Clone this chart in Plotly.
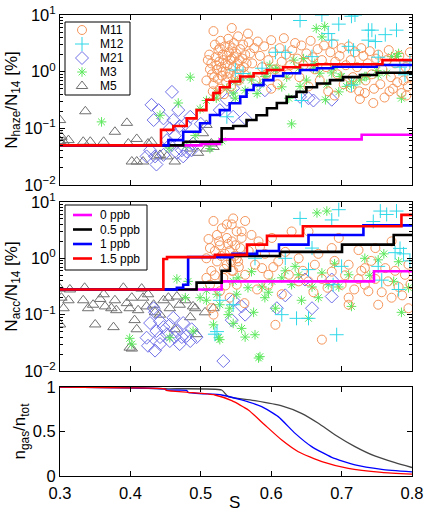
import plotly.graph_objects as go

# ---------------- data ----------------
x_ticks = [0.3, 0.4, 0.5, 0.6, 0.7, 0.8]
log_ticks = [0.01, 0.1, 1, 10]
log_tick_text = ["10<sup>\u22122</sup>", "10<sup>\u22121</sup>", "10<sup>0</sup>", "10<sup>1</sup>"]
lin_ticks = [0, 0.5, 1]
lin_tick_text = ["0", "0.5", "1"]
series_names = ["M11", "M12", "M21", "M3", "M5"]
line_names = ["0 ppb", "0.5 ppb", "1 ppb", "1.5 ppb"]

# panel 1 : N_haze / N_14 [%]  (S, value)
m11_haze = [(0.518,5.2),(0.544,5.9),(0.567,4.7),(0.512,2.0),(0.515,1.4),(0.516,0.9),(0.518,0.6),(0.520,3.0),
            (0.521,1.8),(0.523,1.1),(0.524,0.75),(0.525,2.4),(0.526,1.5),(0.527,0.5),(0.528,3.5),(0.529,1.2),
            (0.530,0.85),(0.531,2.0),(0.532,1.6),(0.533,0.4),(0.534,2.8),(0.535,1.0),(0.536,0.65),(0.537,1.9),
            (0.538,1.3),(0.539,3.8),(0.540,2.2),(0.541,0.95),(0.542,1.6),(0.543,0.55),(0.545,2.6),(0.546,1.2),
            (0.547,3.2),(0.548,1.8),(0.549,0.8),(0.550,2.1),(0.552,1.4),(0.553,4.2),(0.554,0.7),(0.556,2.5),
            (0.557,1.1),(0.559,1.7),(0.560,3.0),(0.562,0.9),(0.563,2.0),(0.565,1.4),(0.568,3.3),(0.570,2.1),
            (0.513,1.1),(0.519,0.8),(0.522,1.3),(0.527,2.6),(0.531,1.0),(0.535,1.4),(0.538,0.8),(0.541,2.9),
            (0.544,1.7),(0.551,0.9),(0.555,1.6),(0.561,1.2),(0.517,0.45),(0.522,0.38),(0.508,0.7),(0.510,1.6),
            (0.573,1.4),(0.576,2.6),(0.578,0.7),(0.581,3.4),(0.584,1.9),(0.587,1.2),(0.590,2.8),(0.593,0.9),
            (0.596,1.6),(0.600,3.6),(0.603,2.2),(0.606,1.1),(0.609,0.6),(0.612,2.6),(0.615,1.5),(0.618,3.9),
            (0.621,2.0),(0.624,0.9),(0.627,1.3),(0.630,2.4),(0.634,3.2),(0.637,1.7),(0.640,0.8),(0.643,2.9),
            (0.646,1.3),(0.650,2.1),(0.653,0.55),(0.656,3.5),(0.659,1.8),(0.662,1.1),(0.666,2.5),(0.669,0.7),
            (0.672,1.6),(0.675,2.9),(0.678,1.2),(0.681,0.45),(0.684,2.2),(0.688,3.1),(0.691,1.5),(0.694,0.9),
            (0.697,1.9),(0.700,2.6),(0.703,0.6),(0.706,1.3),(0.710,2.8),(0.713,1.6),(0.716,0.8),(0.719,2.2),
            (0.722,1.2),(0.725,0.45),(0.728,2.6),(0.731,1.9),(0.734,0.7),(0.737,1.4),(0.740,2.3),(0.743,0.9),
            (0.746,0.5),(0.749,1.7),(0.752,2.0),(0.755,0.6),(0.758,1.1),(0.761,0.35),(0.764,1.6),(0.767,2.4),
            (0.770,0.8),(0.773,0.5),(0.776,1.4),(0.779,0.65),(0.782,1.9),(0.785,0.42),(0.788,0.7),(0.791,1.2),
            (0.794,0.55),(0.797,2.2),(0.799,0.8),(0.726,0.33),(0.745,0.28),(0.690,0.38),(0.768,0.45),
            (0.792,0.38),(0.733,0.42),(0.713,0.52),(0.600,0.5)]
m12_haze = [(0.641,8.0),(0.672,10),(0.696,6.9),(0.714,9.5),(0.719,10),(0.738,5.4),(0.743,5.4),(0.762,4.5),
            (0.778,5.4),(0.748,3.4),(0.681,4.7),(0.686,3.6),(0.606,2.2),(0.620,2.2),(0.658,1.84),(0.643,0.31),
            (0.710,2.8),(0.714,0.58),(0.738,3.6),(0.783,1.2),(0.790,0.88),(0.752,1.8),(0.549,1.07),(0.560,0.93),
            (0.587,1.15),(0.717,2.4),(0.537,0.16),(0.797,1.5)]
m21_haze = [(0.459,0.44),(0.430,0.26),(0.440,0.21),(0.433,0.14),(0.447,0.15),(0.461,0.14),(0.456,0.10),
            (0.470,0.11),(0.478,0.12),(0.468,0.21),(0.485,0.16),(0.463,0.074),(0.428,0.041),(0.435,0.032),
            (0.437,0.023),(0.447,0.034),(0.456,0.051),(0.466,0.037),(0.473,0.041),(0.480,0.039),(0.487,0.041),
            (0.489,0.054),(0.475,0.032),(0.452,0.062),(0.423,0.032),(0.537,0.32),(0.546,0.51),(0.527,0.21),
            (0.546,0.16),(0.563,0.15),(0.591,0.47),(0.641,0.36),(0.653,0.34),(0.660,0.31),(0.686,0.32),(0.500,0.12)]
m3_haze = [(0.359,0.13),(0.442,0.17),(0.468,0.28),(0.485,0.80),(0.492,0.075),(0.499,0.22),(0.508,0.31),
           (0.513,0.044),(0.523,0.42),(0.522,0.34),(0.537,0.51),(0.546,0.42),(0.549,0.66),(0.549,0.34),
           (0.556,0.71),(0.563,0.47),(0.570,0.82),(0.572,0.71),(0.580,0.41),(0.584,0.60),(0.591,0.82),
           (0.594,0.94),(0.598,1.3),(0.606,1.07),(0.608,1.15),(0.615,0.54),(0.622,0.80),(0.625,0.34),
           (0.629,0.12),(0.632,1.6),(0.639,1.15),(0.641,0.55),(0.646,1.7),(0.650,0.71),(0.660,1.15),(0.662,1.4),
           (0.664,5.8),(0.669,0.94),(0.672,4.1),(0.676,6.3),(0.677,0.32),(0.679,0.60),(0.686,0.95),(0.688,1.15),
           (0.696,0.44),(0.698,0.82),(0.700,0.82),(0.707,0.55),(0.714,0.66),(0.717,0.60),(0.726,0.71),
           (0.733,0.82),(0.735,0.82),(0.750,1.05),(0.752,0.87),(0.764,0.94),(0.771,1.84),(0.778,1.85),
           (0.781,2.1),(0.785,0.34),(0.479,0.05),(0.530,0.06),(0.455,0.045)]
m5_haze = [(0.300,0.14),(0.302,0.071),(0.305,0.058),(0.312,0.062),(0.333,0.058),(0.336,0.20),(0.343,0.058),
           (0.362,0.058),(0.378,0.087),(0.395,0.125),(0.397,0.054),(0.402,0.026),(0.409,0.065),(0.409,0.026),
           (0.418,0.026),(0.425,0.054),(0.430,0.058),(0.437,0.032),(0.442,0.034),(0.452,0.032),(0.463,0.026),
           (0.485,0.044),(0.496,0.037),(0.503,0.082),(0.508,0.044),(0.508,0.115),(0.515,0.054),(0.518,0.047),
           (0.300,0.060)]

# panel 2 : N_acc / N_14 [%]  (S, value)
m11_acc = [(0.518,4.6),(0.537,4.0),(0.546,5.1),(0.523,2.6),(0.537,2.3),(0.551,3.0),(0.513,1.52),(0.527,1.7),
           (0.541,1.35),(0.508,1.0),(0.523,0.88),(0.537,0.77),(0.551,1.0),(0.515,0.6),(0.532,0.45),(0.546,0.6),
           (0.513,0.34),(0.527,0.26),(0.541,0.2),(0.551,0.34),(0.508,0.45),(0.520,1.35),(0.534,1.2),(0.544,2.0),
           (0.556,1.52),(0.518,0.10),(0.515,0.13),(0.530,3.4),(0.526,2.0),(0.529,1.1),(0.533,0.65),(0.539,1.8),
           (0.548,1.1),(0.554,0.7),(0.511,2.2),(0.520,0.5),(0.543,0.9),(0.535,0.33),(0.558,2.3),
           (0.563,4.6),(0.544,4.0),(0.558,3.0),(0.572,2.6),(0.582,2.0),(0.549,1.7),(0.568,1.35),(0.591,1.2),
           (0.553,0.88),(0.577,0.77),(0.544,0.6),(0.563,0.51),(0.587,0.67),(0.596,0.34),(0.610,0.88),(0.625,0.51),
           (0.639,1.0),(0.653,0.39),(0.662,0.77),(0.672,0.43),(0.686,0.58),(0.700,0.34),(0.710,0.77),(0.710,0.2),
           (0.724,0.43),(0.733,0.67),(0.738,0.26),(0.748,0.43),(0.752,0.15),(0.766,0.39),(0.771,0.2),(0.781,0.31),
           (0.790,0.51),(0.795,0.13),(0.672,0.036),(0.606,0.066),(0.710,0.15),(0.629,3.0),(0.601,2.3),(0.686,1.52),
           (0.724,1.4),(0.748,1.52),(0.771,2.0),(0.795,0.77),(0.653,3.0),(0.696,2.3),(0.639,0.39),(0.615,0.23),
           (0.596,0.51),(0.733,0.34),(0.762,0.67),(0.620,1.3),(0.645,0.6),(0.667,1.2),(0.690,0.9),(0.705,0.5),
           (0.718,0.28),(0.742,0.9),(0.757,0.25),(0.776,0.6),(0.786,0.22),(0.798,0.35),(0.580,0.28),(0.603,0.7),
           (0.660,0.25),(0.728,0.6),(0.680,0.3),(0.562,0.16),(0.584,1.6)]
m12_acc = [(0.641,5.1),(0.696,7.3),(0.755,6.9),(0.778,6.9),(0.764,6.0),(0.686,4.8),(0.745,4.5),(0.620,1.0),
           (0.615,0.10),(0.636,0.086),(0.653,0.086),(0.693,0.044),(0.688,0.34),(0.783,1.5),(0.788,1.2),
           (0.776,1.26),(0.757,0.41),(0.752,0.72),(0.781,0.28),(0.577,1.0),(0.653,0.63),(0.658,1.52),(0.700,0.72),
           (0.527,0.18),(0.520,0.045),(0.546,0.15),(0.523,0.05),(0.797,0.9)]
m21_acc = [(0.433,0.13),(0.435,0.11),(0.428,0.071),(0.437,0.051),(0.442,0.04),(0.435,0.023),(0.442,0.03),
           (0.447,0.06),(0.452,0.045),(0.456,0.066),(0.456,0.034),(0.463,0.04),(0.466,0.051),(0.470,0.03),
           (0.473,0.04),(0.475,0.071),(0.480,0.042),(0.485,0.034),(0.487,0.055),(0.494,0.04),(0.461,0.088),
           (0.532,0.015),(0.423,0.039),(0.425,0.028),(0.442,0.076),(0.558,0.14),(0.563,0.10),(0.608,0.13),
           (0.620,0.22),(0.648,0.42),(0.658,0.13),(0.686,0.21),(0.686,0.42),(0.544,0.08),(0.546,0.18)]
m3_acc = [(0.466,0.43),(0.482,0.39),(0.478,0.2),(0.499,0.2),(0.508,0.27),(0.523,0.23),(0.527,0.15),(0.541,0.13),
          (0.546,0.07),(0.399,0.038),(0.456,0.039),(0.489,0.051),(0.518,0.066),(0.525,0.039),(0.527,0.036),
          (0.508,0.18),(0.539,0.10),(0.546,0.39),(0.551,0.23),(0.584,0.018),(0.665,6.4),(0.679,6.9),(0.553,0.45),
          (0.572,0.58),(0.587,0.31),(0.601,0.39),(0.615,0.45),(0.629,0.34),(0.639,0.51),(0.643,0.18),(0.658,0.31),
          (0.667,0.2),(0.672,0.55),(0.681,0.34),(0.696,0.31),(0.710,0.51),(0.714,0.14),(0.653,0.086),(0.558,0.057),
          (0.577,0.044),(0.582,0.017),(0.563,0.04),(0.591,0.2),(0.606,0.13),(0.781,0.87),(0.785,0.11),(0.774,0.39),
          (0.752,0.94),(0.733,1.0),(0.575,0.11),(0.634,0.72),(0.402,0.03),(0.567,0.3),(0.596,0.25),(0.620,0.6),
          (0.690,0.8),(0.740,0.5),(0.760,1.2),(0.795,0.3)]
m5_acc = [(0.300,0.29),(0.302,0.2),(0.305,0.13),(0.300,0.067),(0.314,0.28),(0.312,0.18),(0.335,0.3),(0.333,0.18),
          (0.340,0.13),(0.347,0.15),(0.350,0.067),(0.362,0.23),(0.364,0.14),(0.373,0.13),(0.376,0.06),(0.390,0.3),
          (0.395,0.16),(0.399,0.13),(0.402,0.2),(0.406,0.08),(0.409,0.055),(0.399,0.026),(0.418,0.2),(0.423,0.14),
          (0.425,0.23),(0.433,0.15),(0.442,0.10),(0.447,0.18),(0.454,0.2),(0.456,0.13),(0.466,0.21),(0.470,0.15),
          (0.478,0.18),(0.485,0.09),(0.489,0.14),(0.492,0.13),(0.506,0.11),(0.518,0.13),(0.463,0.055),
          (0.494,0.045),(0.416,0.29),(0.411,0.12),(0.357,0.19),(0.435,0.11),(0.380,0.12),(0.378,0.18),
          (0.402,0.025)]

# model curves, panel 1 (step lines)
haze_0_s = [0.30, 0.501, 0.527, 0.7285, 0.80]
haze_0_v = [0.05, 0.053, 0.064, 0.077, 0.077]
haze_05_s = [0.30, 0.475, 0.5296, 0.546, 0.565, 0.579, 0.594, 0.608, 0.622, 0.636, 0.650, 0.665, 0.6835, 0.702, 0.726, 0.750, 0.80]
haze_05_v = [0.05, 0.058, 0.10, 0.11, 0.14, 0.17, 0.226, 0.28, 0.36, 0.44, 0.53, 0.62, 0.71, 0.80, 0.875, 0.96, 1.0]
haze_1_s = [0.30, 0.454, 0.475, 0.499, 0.513, 0.527, 0.541, 0.556, 0.565, 0.575, 0.589, 0.603, 0.617, 0.641, 0.665, 0.688, 0.750, 0.80]
haze_1_v = [0.05, 0.062, 0.087, 0.123, 0.172, 0.21, 0.277, 0.363, 0.475, 0.58, 0.71, 0.84, 0.94, 1.07, 1.15, 1.22, 1.31, 1.37]
haze_15_s = [0.30, 0.4435, 0.461, 0.480, 0.494, 0.508, 0.518, 0.527, 0.541, 0.556, 0.575, 0.594, 0.617, 0.641, 0.665, 0.758, 0.80]
haze_15_v = [0.05, 0.094, 0.11, 0.15, 0.21, 0.32, 0.42, 0.53, 0.67, 0.82, 0.94, 1.07, 1.2, 1.31, 1.35, 1.6, 1.6]

# model curves, panel 2 (step lines)
acc_0_s = [0.30, 0.5296, 0.746, 0.80]
acc_0_v = [0.28, 0.39, 0.59, 0.59]
acc_05_s = [0.30, 0.494, 0.5296, 0.5415, 0.6125, 0.7006, 0.774, 0.80]
acc_05_v = [0.28, 0.37, 0.6, 1.1, 1.3, 1.75, 2.6, 2.6]
acc_1_s = [0.30, 0.466, 0.475, 0.482, 0.545, 0.580, 0.611, 0.653, 0.731, 0.80]
acc_1_v = [0.28, 0.30, 0.34, 1.05, 1.2, 1.35, 1.75, 2.6, 3.85, 3.85]
acc_15_s = [0.30, 0.4468, 0.452, 0.520, 0.5656, 0.594, 0.645, 0.785, 0.80]
acc_15_v = [0.28, 0.97, 1.05, 1.15, 1.75, 2.5, 3.7, 5.9, 5.9]

# panel 3 : n_gas / n_tot
gas_05_s = [0.30, 0.40, 0.449, 0.5296, 0.539, 0.577, 0.615, 0.643, 0.667, 0.691, 0.719, 0.747, 0.776, 0.80]
gas_05_v = [1.0, 0.99, 0.98, 0.966, 0.891, 0.846, 0.787, 0.704, 0.592, 0.461, 0.33, 0.225, 0.15, 0.095]
gas_1_s = [0.30, 0.40, 0.449, 0.451, 0.48, 0.482, 0.5296, 0.558, 0.5865, 0.610, 0.634, 0.6575, 0.686, 0.719, 0.757, 0.80]
gas_1_v = [1.0, 0.99, 0.978, 0.966, 0.962, 0.94, 0.91, 0.854, 0.779, 0.667, 0.479, 0.33, 0.21, 0.124, 0.075, 0.046]
gas_15_s = [0.30, 0.40, 0.449, 0.451, 0.482, 0.52, 0.544, 0.5675, 0.591, 0.615, 0.6385, 0.672, 0.7095, 0.757, 0.80]
gas_15_v = [1.0, 0.99, 0.978, 0.962, 0.94, 0.91, 0.846, 0.742, 0.573, 0.404, 0.273, 0.161, 0.086, 0.041, 0.021]

# ---------------- styles ----------------
FONT = "Liberation Sans, Arial, sans-serif"
scatter_styles = {
    "M11": dict(symbol="circle-open", color="#F5955A", size=9),
    "M12": dict(symbol="cross-thin-open", color="#2FD8E8", size=10),
    "M21": dict(symbol="diamond-open", color="#7070E8", size=10),
    "M3": dict(symbol="asterisk-open", color="#5EE85E", size=8),
    "M5": dict(symbol="triangle-up-open", color="#707070", size=10),
}
line_colors = ["#FF00FF", "#000000", "#0000FF", "#FF0000"]

fig = go.Figure()

haze_sets = [m11_haze, m12_haze, m21_haze, m3_haze, m5_haze]
acc_sets = [m11_acc, m12_acc, m21_acc, m3_acc, m5_acc]

order = ["M5", "M21", "M3", "M11", "M12"]
for name in order:
    i = series_names.index(name)
    st = scatter_styles[name]
    for panel, data in ((1, haze_sets[i]), (2, acc_sets[i])):
        fig.add_trace(go.Scatter(
            x=[p[0] for p in data], y=[p[1] for p in data], mode="markers", name=name,
            xaxis="x" if panel == 1 else "x2", yaxis="y" if panel == 1 else "y2",
            marker=dict(symbol=st["symbol"], size=st["size"], color=st["color"],
                        line=dict(color=st["color"], width=1)),
            showlegend=False,
        ))

haze_lines = [(haze_0_s, haze_0_v), (haze_05_s, haze_05_v), (haze_1_s, haze_1_v), (haze_15_s, haze_15_v)]
acc_lines = [(acc_0_s, acc_0_v), (acc_05_s, acc_05_v), (acc_1_s, acc_1_v), (acc_15_s, acc_15_v)]
for k in range(4):
    fig.add_trace(go.Scatter(x=haze_lines[k][0], y=haze_lines[k][1], mode="lines", line_shape="hv",
                             line=dict(color=line_colors[k], width=2.6), xaxis="x", yaxis="y", showlegend=False))
for k in range(4):
    fig.add_trace(go.Scatter(x=acc_lines[k][0], y=acc_lines[k][1], mode="lines", line_shape="hv",
                             name=line_names[k], line=dict(color=line_colors[k], width=2.6),
                             xaxis="x2", yaxis="y2", showlegend=False))

gas_lines = [(gas_05_s, gas_05_v, "#444444"), (gas_1_s, gas_1_v, "#0000FF"), (gas_15_s, gas_15_v, "#FF0000")]
for s, v, c in gas_lines:
    fig.add_trace(go.Scatter(x=s, y=v, mode="lines", line=dict(color=c, width=1.3, shape="spline", smoothing=0.5),
                             xaxis="x3", yaxis="y3", showlegend=False))

# ---------------- hand-made compact legends (overlay subplot in pixel units) ----------------
LEG = dict(xaxis="x4", yaxis="y4", showlegend=False, hoverinfo="skip")
LEG_FONT = dict(size=12, family=FONT)
fig.add_trace(go.Scatter(x=[65, 130, 130, 65, 65], y=[22, 22, 95, 95, 22], mode="lines", fill="toself",
                         fillcolor="white", line=dict(color="black", width=1), **LEG))
for j, name in enumerate(series_names):
    st = scatter_styles[name]
    yy = 30 + 14 * j
    fig.add_trace(go.Scatter(x=[82], y=[yy], mode="markers",
                             marker=dict(symbol=st["symbol"], size=st["size"], color=st["color"],
                                         line=dict(color=st["color"], width=1)), **LEG))
    fig.add_annotation(x=99, y=yy, xref="x4", yref="y4", text=name, showarrow=False,
                       xanchor="left", yanchor="middle", font=LEG_FONT, borderpad=0)
fig.add_trace(go.Scatter(x=[65, 147, 147, 65, 65], y=[205, 205, 270, 270, 205], mode="lines", fill="toself",
                         fillcolor="white", line=dict(color="black", width=1), **LEG))
for k, name in enumerate(line_names):
    yy = 215 + 14.5 * k
    fig.add_trace(go.Scatter(x=[73, 92], y=[yy, yy], mode="lines",
                             line=dict(color=line_colors[k], width=2.6), **LEG))
    fig.add_annotation(x=99, y=yy, xref="x4", yref="y4", text=name, showarrow=False,
                       xanchor="left", yanchor="middle", font=LEG_FONT, borderpad=0)

# x-axis title of the bottom panel
fig.add_annotation(x=0.497, y=-0.0564, xref="paper", yref="paper", text="S", showarrow=False,
                   xanchor="center", yanchor="middle", font=dict(size=17, family=FONT), borderpad=0)

minor_log = [m * 10 ** e for e in (-2, -1, 0) for m in range(2, 10)]

TICK_FONT = dict(size=16.5)
common_x = dict(range=[0.3, 0.8], tickvals=x_ticks, ticks="inside", ticklen=5, tickcolor="black",
                showline=True, linecolor="black", linewidth=1, mirror="ticks", showgrid=False, zeroline=False,
                automargin=False)
common_ylog = dict(type="log", range=[-2, 1], tickvals=log_ticks, ticktext=log_tick_text, ticks="inside",
                   ticklen=5, tickcolor="black", showline=True, linecolor="black", linewidth=1, mirror="ticks",
                   showgrid=False, zeroline=False, tickfont=TICK_FONT, automargin=False,
                   minor=dict(tickvals=minor_log, ticks="inside", ticklen=3, tickcolor="black", showgrid=False))
TITLE_FONT = dict(size=17)

fig.update_layout(
    width=427, height=514,
    margin=dict(l=60, r=15, t=15, b=38),
    paper_bgcolor="white", plot_bgcolor="rgba(0,0,0,0)",
    font=dict(family=FONT, size=16, color="black"),
    showlegend=False,
    xaxis=dict(common_x, domain=[0, 1], anchor="y", showticklabels=False),
    yaxis=dict(common_ylog, domain=[0.6312, 1], anchor="x",
               title=dict(text="N<sub>haze</sub>/N<sub>14</sub> [%]", standoff=2, font=TITLE_FONT)),
    xaxis2=dict(common_x, domain=[0, 1], anchor="y2", showticklabels=False),
    yaxis2=dict(common_ylog, domain=[0.2278, 0.5944], anchor="x2",
                title=dict(text="N<sub>acc</sub>/N<sub>14</sub> [%]", standoff=2, font=TITLE_FONT)),
    xaxis3=dict(common_x, domain=[0, 1], anchor="y3", showticklabels=True, tickfont=TICK_FONT,
                ticklabelstandoff=2),
    yaxis3=dict(range=[0, 1], tickvals=lin_ticks, ticktext=lin_tick_text, ticks="inside", ticklen=5,
                tickcolor="black", showline=True, linecolor="black", linewidth=1, mirror="ticks",
                showgrid=False, zeroline=False, domain=[0, 0.1931], anchor="x3", tickfont=TICK_FONT,
                automargin=False,
                title=dict(text="n<sub>gas</sub>/n<sub>tot</sub>", standoff=2, font=TITLE_FONT)),
    xaxis4=dict(domain=[0, 1], range=[60, 412], visible=False, anchor="y4", fixedrange=True, automargin=False),
    yaxis4=dict(domain=[0, 1], range=[476, 15], visible=False, anchor="x4", fixedrange=True, automargin=False),
)

fig.write_html("out.html")
